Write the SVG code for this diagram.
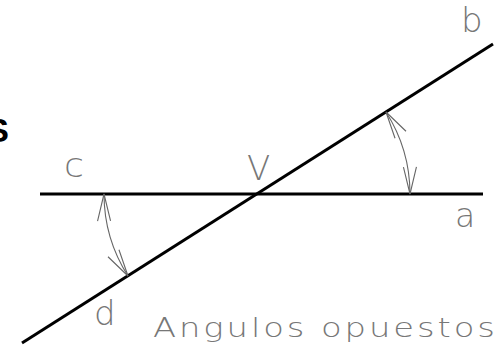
<svg xmlns="http://www.w3.org/2000/svg" width="502" height="351" viewBox="0 0 502 351">
<style>
.thick{stroke:#000;stroke-width:3;fill:none;stroke-linecap:butt}
.arc{stroke:#666;stroke-width:1.1;fill:none}
.lbl{font-family:"DejaVu Sans",sans-serif;font-weight:200;fill:#777}
</style>
<defs>
<marker id="ah" markerUnits="userSpaceOnUse" viewBox="-30 -10 32 20" refX="0" refY="0" markerWidth="32" markerHeight="20" orient="auto-start-reverse">
<path d="M -27 -6.5 L 0 0 L -27 6.5" fill="none" stroke="#666" stroke-width="1.1"/>
</marker>
</defs>
<rect width="502" height="351" fill="#fff"/>
<text x="9" y="142" text-anchor="end" font-family="Liberation Sans, Arial, sans-serif" font-weight="bold" font-size="34" fill="#000">S</text>
<g id="connectors">
<line id="line-ca" class="thick" x1="40" y1="194" x2="483" y2="194"/>
<line id="line-db" class="thick" x1="22" y1="343" x2="493" y2="44"/>
<path id="arc-ab" class="arc" d="M 386 112 A 153 153 0 0 1 410 194" marker-start="url(#ah)" marker-end="url(#ah)"/>
<path id="arc-cd" class="arc" d="M 104 194 A 153 153 0 0 0 128 276" marker-start="url(#ah)" marker-end="url(#ah)"/>
</g>
<g id="label-b"><text class="lbl" x="461" y="32" font-size="34">b</text></g>
<g id="label-c"><text class="lbl" transform="translate(64,177) scale(1.1,1)" font-size="33">c</text></g>
<g id="label-V"><text class="lbl" x="247" y="180" font-size="34">V</text></g>
<g id="label-a"><text class="lbl" x="455" y="227" font-size="33">a</text></g>
<g id="label-d"><text class="lbl" x="94" y="325" font-size="34">d</text></g>
<g id="title"><text class="lbl" transform="translate(153,337) scale(1.3,1)" font-size="26" textLength="263" lengthAdjust="spacing">Angulos opuestos</text></g>
</svg>
